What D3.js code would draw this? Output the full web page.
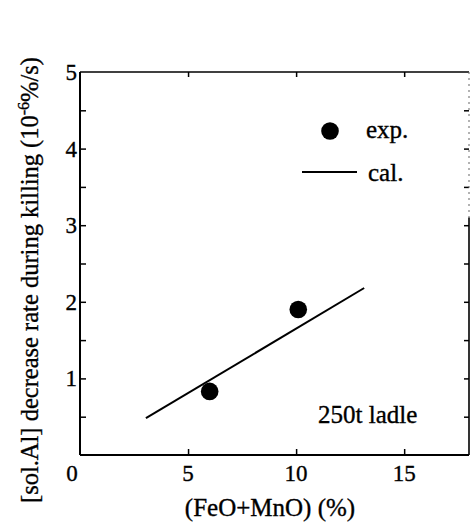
<!DOCTYPE html>
<html><head><meta charset="utf-8">
<script src="https://cdn.jsdelivr.net/npm/d3@7"></script>
<style>
body{margin:0;background:#fff;}
svg{display:block;}
</style></head>
<body>
<svg id="c" width="470" height="525" font-family="'Liberation Serif', 'Times New Roman', Times, serif"></svg>
<script>
const expX = [6.0, 10.1];
const expY = [0.83, 1.9];
const calX = [3.05, 13.15];
const calY = [0.48, 2.18];
const xTicks = [0, 5, 10, 15];
const yTicks = [1, 2, 3, 4, 5];
const yMinor = [0.5, 1, 1.5, 2, 2.5, 3, 3.5, 4, 4.5];

const FF = "'Liberation Serif', 'Times New Roman', Times, serif";
const svg = d3.select("#c");
const L = 80, R = 469, T = 72, B = 455;
const x = d3.scaleLinear().domain([0, 18]).range([L, R]);
const y = d3.scaleLinear().domain([0, 5]).range([B, T]);

const txt = (sel) => sel.attr("font-family", FF).attr("fill", "#000").attr("stroke", "#000").attr("stroke-width", 0.35);

// axes ticks
const axStyle = g => { g.select(".domain").remove(); g.selectAll("text").remove(); g.selectAll("line").attr("stroke","#000").attr("stroke-width",1.5); };
svg.append("g").attr("transform",`translate(0,${B})`).call(d3.axisBottom(x).tickValues([5,10,15]).tickSize(-6)).call(axStyle);
svg.append("g").attr("transform",`translate(0,${T})`).call(d3.axisTop(x).tickValues([5,10,15]).tickSize(-5)).call(axStyle);
svg.append("g").attr("transform",`translate(${L},0)`).call(d3.axisLeft(y).tickValues(yMinor).tickSize(-6)).call(axStyle);
svg.append("g").attr("transform",`translate(${R},0)`).call(d3.axisRight(y).tickValues(yMinor).tickSize(-5)).call(axStyle);

// frame
svg.append("line").attr("x1",L).attr("x2",R).attr("y1",B).attr("y2",B).attr("stroke","#000").attr("stroke-width",2);
svg.append("line").attr("x1",L).attr("x2",L).attr("y1",T).attr("y2",B).attr("stroke","#000").attr("stroke-width",2);
svg.append("line").attr("x1",L).attr("x2",R).attr("y1",T).attr("y2",T).attr("stroke","#000").attr("stroke-width",1.6);
svg.append("line").attr("x1",R).attr("x2",R).attr("y1",T).attr("y2",y(3.1)).attr("stroke","#666").attr("stroke-width",1).attr("stroke-dasharray","2,4");
svg.append("line").attr("x1",R).attr("x2",R).attr("y1",y(3.1)).attr("y2",B).attr("stroke","#000").attr("stroke-width",1.6);

// tick labels
svg.selectAll(".xl").data(xTicks.slice(1)).enter().append("text").call(txt)
  .attr("x", d => x(d)).attr("y", 481).attr("text-anchor","middle").attr("font-size",23).text(d => d);
svg.append("text").call(txt).attr("x", L - 8).attr("y", 481).attr("text-anchor","middle").attr("font-size",23).text(xTicks[0]);
svg.selectAll(".yl").data(yTicks).enter().append("text").call(txt)
  .attr("x", L - 3).attr("y", d => y(d) + 8).attr("text-anchor","end").attr("font-size",23).text(d => d);

// axis titles
svg.append("text").call(txt).attr("x", 270).attr("y", 516).attr("text-anchor","middle").attr("font-size",25).text("(FeO+MnO) (%)");
const yt = svg.append("text").call(txt).attr("transform", `translate(38,${(45+515)/2}) rotate(-90)`).attr("text-anchor","middle").attr("font-size",24.5);
yt.append("tspan").text("[sol.Al] decrease rate during killing (10");
yt.append("tspan").attr("dy",-9).attr("font-size",16).text("-6");
yt.append("tspan").attr("dy",9).text("%/s)");

// cal line
svg.append("path").datum(calX.map((v,i)=>[v,calY[i]]))
  .attr("d", d3.line().x(d=>x(d[0])).y(d=>y(d[1])))
  .attr("stroke","#000").attr("stroke-width",2).attr("fill","none");

// exp points
svg.selectAll(".pt").data(expX.map((v,i)=>[v,expY[i]])).enter().append("circle")
  .attr("cx", d=>x(d[0])).attr("cy", d=>y(d[1])).attr("r", 8.8).attr("fill","#000");

// legend
svg.append("circle").attr("cx",330).attr("cy",131).attr("r",8.8).attr("fill","#000");
svg.append("text").call(txt).attr("x",366).attr("y",138).attr("font-size",25).text("exp.");
svg.append("line").attr("x1",302).attr("x2",357).attr("y1",172).attr("y2",172).attr("stroke","#000").attr("stroke-width",1.8);
svg.append("text").call(txt).attr("x",368).attr("y",181).attr("font-size",25).text("cal.");

svg.append("text").call(txt).attr("x",318).attr("y",423).attr("font-size",25).text("250t ladle");
</script>
</body></html>
